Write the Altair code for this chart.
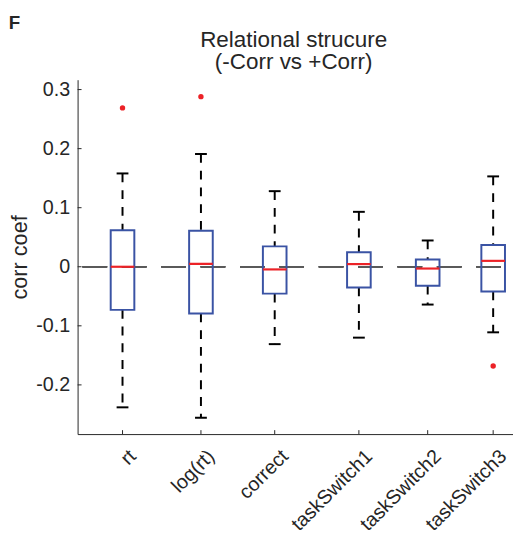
import altair as alt
import pandas as pd

# ---- data ----
categories = ["rt", "log(rt)", "correct", "taskSwitch1", "taskSwitch2", "taskSwitch3"]
positions = [1.0, 1.994, 2.929, 3.996, 4.868, 5.698]
upper_whisker = [0.158, 0.191, 0.128, 0.093, 0.0445, 0.153]
q3 = [0.062, 0.061, 0.0345, 0.0245, 0.0123, 0.037]
median = [0.000, 0.005, -0.0045, 0.0045, -0.003, 0.010]
q1 = [-0.073, -0.079, -0.0455, -0.035, -0.032, -0.0417]
lower_whisker = [-0.238, -0.2555, -0.131, -0.120, -0.064, -0.111]

outlier_category = ["rt", "log(rt)", "taskSwitch3"]
outlier_value = [0.269, 0.288, -0.168]

y_ticks = [-0.2, -0.1, 0.0, 0.1, 0.2, 0.3]
title_lines = ["Relational strucure", "(-Corr vs +Corr)"]
panel_letter = "F"

X_DOMAIN = [0.493, 5.887]
Y_DOMAIN = [-0.2833, 0.3167]

box_df = pd.DataFrame({
    "category": categories, "pos": positions, "hi": upper_whisker,
    "q3": q3, "med": median, "q1": q1, "lo": lower_whisker,
})
pos_map = dict(zip(categories, positions))
out_df = pd.DataFrame({
    "category": outlier_category,
    "pos": [pos_map[c] for c in outlier_category],
    "value": outlier_value,
})
ytick_df = pd.DataFrame({"v": y_ticks})

FONT = "Liberation Sans"
TXT = "#262626"
BLUE = "#3a53a4"
RED = "#ec2227"
W, H = 442.3, 360

label_expr = "[" + ",".join("'%s'" % c for c in categories) + "][indexof([" + \
    ",".join(repr(p) for p in positions) + "], datum.value)]"

x_scale = alt.Scale(domain=X_DOMAIN, nice=False, zero=False)
y_scale = alt.Scale(domain=Y_DOMAIN, nice=False, zero=False)

x_enc = alt.X("pos:Q", scale=x_scale, axis=alt.Axis(
    values=positions, labelExpr=label_expr, title=None, grid=False,
    tickSize=0, labelAngle=-45, labelAlign="right", labelBaseline="top",
    labelPadding=12, labelOffset=3, labelFontSize=20, labelFont=FONT,
    labelColor=TXT, domainColor=TXT, domainWidth=1, labelOverlap=False,
    labelFlush=False, labelBound=False))

base = alt.Chart(box_df)

zero_line = alt.Chart(ytick_df).mark_rule(
    color="#595959", strokeWidth=1.4, strokeDash=[25, 15]
).encode(x=alt.datum(X_DOMAIN[0], scale=x_scale), x2=alt.datum(X_DOMAIN[1]),
         y=alt.datum(0, scale=y_scale))

upper_w = base.mark_rule(color="black", strokeWidth=2, strokeDash=[9, 8]).encode(
    x=x_enc,
    y=alt.Y("hi:Q", scale=y_scale, axis=alt.Axis(
        values=y_ticks, title="corr coef", grid=False, tickSize=0,
        labelExpr="datum.value == 0 ? '0' : toString(round(datum.value*10)/10)",
        labelFontSize=20, labelFont=FONT, labelColor=TXT, labelPadding=8,
        titleFontSize=22, titleFont=FONT, titleFontWeight="normal",
        titleColor=TXT, titlePadding=4, domainColor=TXT, domainWidth=1)),
    y2="q3:Q")
lower_w = base.mark_rule(color="black", strokeWidth=2, strokeDash=[9, 8]).encode(
    x="pos:Q", y="q1:Q", y2="lo:Q")

cap_hi = base.mark_tick(color="black", size=12, thickness=2, orient="horizontal",
                        opacity=1).encode(x="pos:Q", y="hi:Q")
cap_lo = base.mark_tick(color="black", size=12, thickness=2, orient="horizontal",
                        opacity=1).encode(x="pos:Q", y="lo:Q")

boxes = base.mark_bar(size=24, fill=None, fillOpacity=0, stroke=BLUE, strokeWidth=2).encode(
    x="pos:Q", y="q1:Q", y2="q3:Q")

medians = base.mark_tick(color=RED, size=24, thickness=2.2, orient="horizontal",
                         opacity=1).encode(x="pos:Q", y="med:Q")

outliers = alt.Chart(out_df).mark_circle(color=RED, size=30, opacity=1).encode(
    x="pos:Q", y="value:Q")

y_inner_ticks = alt.Chart(ytick_df).mark_rule(color=TXT, strokeWidth=1).encode(
    y="v:Q", x=alt.value(0), x2=alt.value(4))
x_inner_ticks = alt.Chart(pd.DataFrame({"pos": positions})).mark_rule(
    color=TXT, strokeWidth=1).encode(x="pos:Q", y=alt.value(H), y2=alt.value(H - 4))

panel = alt.Chart(pd.DataFrame({"t": [panel_letter]})).mark_text(
    font=FONT, fontSize=19, fontWeight="bold", color=TXT, align="left",
    baseline="alphabetic").encode(text="t:N", x=alt.value(-70), y=alt.value(-52))

title1 = alt.Chart(pd.DataFrame({"t": [title_lines[0]]})).mark_text(
    font=FONT, fontSize=22.8, color=TXT, align="center", baseline="alphabetic"
).encode(text="t:N", x=alt.value(219.5), y=alt.value(-33))
title2 = alt.Chart(pd.DataFrame({"t": [title_lines[1]]})).mark_text(
    font=FONT, fontSize=22.8, color=TXT, align="center", baseline="alphabetic"
).encode(text="t:N", x=alt.value(219.5), y=alt.value(-10.5))

chart = alt.layer(
    zero_line, upper_w, lower_w, cap_hi, cap_lo, boxes, medians, outliers,
    y_inner_ticks, x_inner_ticks, panel, title1, title2
).properties(
    width=W, height=H,
    autosize=alt.AutoSizeParams(type="none"),
    padding={"left": 70.7, "top": 68.7, "right": 0, "bottom": 95},
).configure_view(stroke=None)

chart.save("out.html", embed_options={"renderer": "svg", "actions": False})
